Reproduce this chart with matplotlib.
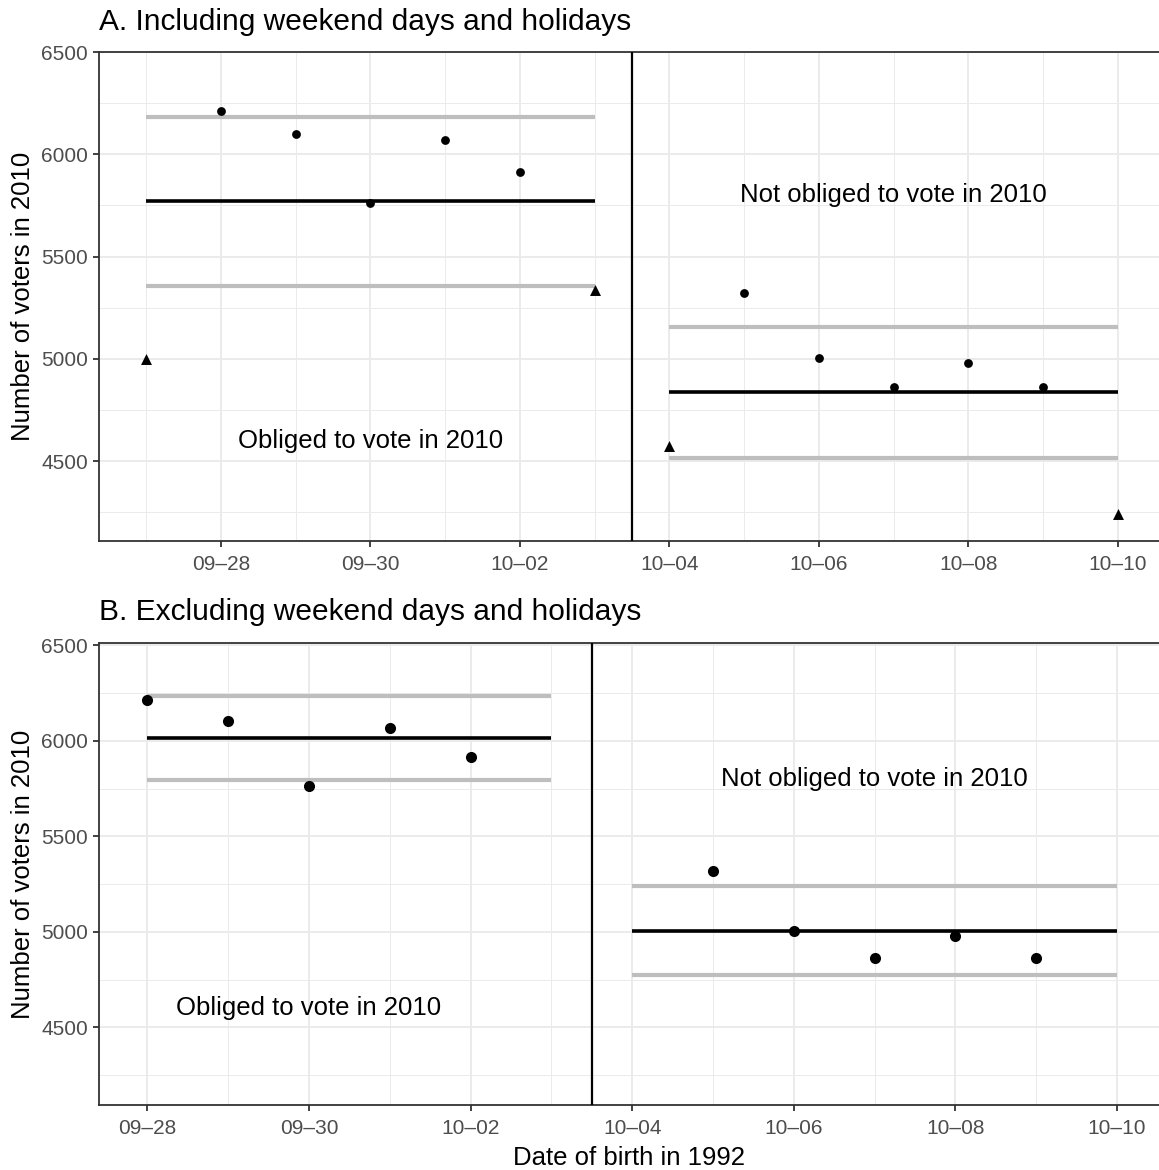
import matplotlib
matplotlib.use("Agg")
import matplotlib.pyplot as plt
from matplotlib.ticker import FixedLocator

plt.rcParams['font.family'] = ['Liberation Sans', 'DejaVu Sans']

# ---- data ----
date_labels = ["09-27", "09-28", "09-29", "09-30", "10-01", "10-02", "10-03",
               "10-04", "10-05", "10-06", "10-07", "10-08", "10-09", "10-10"]
tick_labels = ["09\u201328", "09\u201330", "10\u201302", "10\u201304", "10\u201306", "10\u201308", "10\u201310"]
tick_days = [1, 3, 5, 7, 9, 11, 13]

# Panel A (including weekends/holidays)
a_circle_days = [1, 2, 3, 4, 5, 8, 9, 10, 11, 12]
a_circle_vals = [6210, 6100, 5762, 6068, 5915, 5320, 5005, 4865, 4978, 4862]
a_tri_days = [0, 6, 7, 13]
a_tri_vals = [5000, 5335, 4575, 4240]
a_left_mean, a_left_hi, a_left_lo = 5770, 6180, 5358
a_right_mean, a_right_hi, a_right_lo = 4837, 5157, 4517
a_left_span = (0, 6)
a_right_span = (7, 13)

# Panel B (excluding weekends/holidays)
b_circle_days = [1, 2, 3, 4, 5, 8, 9, 10, 11, 12]
b_circle_vals = [6212, 6102, 5762, 6068, 5915, 5320, 5005, 4865, 4978, 4862]
b_left_mean, b_left_hi, b_left_lo = 6012, 6232, 5797
b_right_mean, b_right_hi, b_right_lo = 5005, 5240, 4775
b_left_span = (1, 6)
b_right_span = (7, 13)

cutoff = 6.5

W, H = 1159, 1170
fig = plt.figure(figsize=(W / 100, H / 100), dpi=100)
fig.patch.set_facecolor("white")

TICK_FS = 15
LAB_FS = 18.5
TITLE_FS = 21.5

def px_axes(left, top, right, bottom):
    return fig.add_axes([left / W, 1 - bottom / H, (right - left) / W, (bottom - top) / H])

def style(ax, xlim, ylim):
    ax.set_xlim(*xlim)
    ax.set_ylim(*ylim)
    ax.xaxis.set_major_locator(FixedLocator(tick_days))
    ax.set_xticklabels(tick_labels)
    ax.xaxis.set_minor_locator(FixedLocator([0, 2, 4, 6, 8, 10, 12]))
    ax.yaxis.set_major_locator(FixedLocator([4500, 5000, 5500, 6000, 6500]))
    ax.yaxis.set_minor_locator(FixedLocator([4250, 4750, 5250, 5750, 6250]))
    ax.grid(which="major", color="#EBEBEB", linewidth=1.4, zorder=0)
    ax.grid(which="minor", color="#EBEBEB", linewidth=0.7, zorder=0)
    ax.set_axisbelow(True)
    for s in ["left", "bottom", "top"]:
        ax.spines[s].set_color("#333333")
        ax.spines[s].set_linewidth(1.3)
    ax.spines["right"].set_visible(False)
    ax.tick_params(which="major", length=4, width=1.3, color="#333333",
                   labelsize=TICK_FS, labelcolor="#4D4D4D")
    ax.tick_params(axis="x", which="major", pad=6)
    ax.tick_params(axis="y", which="major", pad=4)
    ax.tick_params(which="minor", length=0)
    ax.set_ylabel("Number of voters in 2010", fontsize=LAB_FS, labelpad=4)

# ---- Panel A ----
axA = px_axes(99, 52, 1159, 541)
style(axA, (-0.63, 13.55), (4110, 6500))
gray = "#BEBEBE"
axA.hlines([a_left_hi, a_left_lo], *a_left_span, colors=gray, linewidth=3, zorder=2)
axA.hlines([a_right_hi, a_right_lo], *a_right_span, colors=gray, linewidth=3, zorder=2)
axA.hlines(a_left_mean, *a_left_span, colors="black", linewidth=2.6, zorder=3)
axA.hlines(a_right_mean, *a_right_span, colors="black", linewidth=2.6, zorder=3)
axA.axvline(cutoff, color="black", linewidth=1.6, zorder=3)
axA.scatter(a_circle_days, a_circle_vals, s=40, color="black", zorder=4, linewidths=0)
axA.scatter(a_tri_days, a_tri_vals, s=62, marker="^", color="black", zorder=4, linewidths=0)
axA.text(3, 4600, "Obliged to vote in 2010", ha="center", va="center", fontsize=LAB_FS)
axA.text(10, 5800, "Not obliged to vote in 2010", ha="center", va="center", fontsize=LAB_FS)
fig.text(99 / W, 1 - 22 / H, "A. Including weekend days and holidays", ha="left", va="center", fontsize=TITLE_FS)

# ---- Panel B ----
axB = px_axes(99, 643, 1159, 1105)
style(axB, (0.4, 13.52), (4093, 6512))
axB.hlines([b_left_hi, b_left_lo], *b_left_span, colors=gray, linewidth=3, zorder=2)
axB.hlines([b_right_hi, b_right_lo], *b_right_span, colors=gray, linewidth=3, zorder=2)
axB.hlines(b_left_mean, *b_left_span, colors="black", linewidth=2.6, zorder=3)
axB.hlines(b_right_mean, *b_right_span, colors="black", linewidth=2.6, zorder=3)
axB.axvline(cutoff, color="black", linewidth=1.6, zorder=3)
axB.scatter(b_circle_days, b_circle_vals, s=64, color="black", zorder=4, linewidths=0)
axB.text(3, 4600, "Obliged to vote in 2010", ha="center", va="center", fontsize=LAB_FS)
axB.text(10, 5800, "Not obliged to vote in 2010", ha="center", va="center", fontsize=LAB_FS)
axB.set_xlabel("Date of birth in 1992", fontsize=LAB_FS, labelpad=6)
fig.text(99 / W, 1 - 612 / H, "B. Excluding weekend days and holidays", ha="left", va="center", fontsize=TITLE_FS)

fig.savefig("out.png", dpi=100, facecolor="white")
